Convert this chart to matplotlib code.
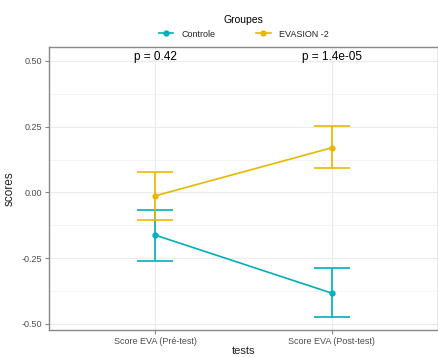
import matplotlib.pyplot as plt
from matplotlib.lines import Line2D
from matplotlib.ticker import MultipleLocator

plt.rcParams["font.family"] = ["Liberation Sans", "DejaVu Sans"]

# data
tests = ["Score EVA (Pré-test)", "Score EVA (Post-test)"]
groups = ["Controle", "EVASION -2"]
colors = ["#00AFBB", "#E7B800"]
means = {"Controle": [-0.162, -0.383], "EVASION -2": [-0.013, 0.170]}
lower = {"Controle": [-0.260, -0.475], "EVASION -2": [-0.106, 0.093]}
upper = {"Controle": [-0.065, -0.288], "EVASION -2": [0.078, 0.253]}
p_labels = ["p = 0.42", "p = 1.4e-05"]

fig = plt.figure(figsize=(4.39, 3.57), dpi=100)
ax = fig.add_axes([49 / 439, 1 - 330 / 357, 389 / 439, 283 / 357])

x = [1, 2]
handles = []
for g, c in zip(groups, colors):
    m = means[g]
    yerr = [[m[i] - lower[g][i] for i in range(2)], [upper[g][i] - m[i] for i in range(2)]]
    ax.errorbar(x, m, yerr=yerr, color=c, lw=1.2, marker="o", ms=3.5,
                capsize=13, capthick=1.2, elinewidth=1.2, zorder=3)
    handles.append(Line2D([], [], color=c, lw=1.2, marker="o", ms=3.5, label=g))

# p-values above each group
for xi, lab in zip(x, p_labels):
    ax.text(xi, 0.515, lab, ha="center", va="center", fontsize=8.5, color="black")

ax.set_xlim(0.4, 2.6)
ax.set_ylim(-0.523, 0.553)
ax.set_xticks(x)
ax.set_xticklabels(tests)
ax.yaxis.set_minor_locator(MultipleLocator(0.125))
ax.set_yticks([0.5, 0.25, 0.0, -0.25, -0.5])
ax.set_yticklabels(["0.50", "0.25", "0.00", "-0.25", "-0.50"])
ax.grid(True, which="major", color="#EBEBEB", lw=0.8)
ax.grid(True, which="minor", axis="y", color="#F2F2F2", lw=0.6)
ax.set_axisbelow(True)
ax.tick_params(axis="both", which="major", labelsize=6.5, colors="#888888", labelcolor="#4D4D4D",
               length=3, width=0.8, pad=2)
ax.tick_params(axis="y", which="minor", length=0)
for s in ax.spines.values():
    s.set_color("#888888")
    s.set_linewidth(1.0)

ax.set_xlabel("tests", fontsize=8, color="#222222", labelpad=0)
ax.set_ylabel("scores", fontsize=8.5, color="#222222", labelpad=4)

leg = fig.legend(handles=handles, loc="center", bbox_to_anchor=(0.555, 0.925), ncol=2,
                 frameon=False, title="Groupes", fontsize=6.5, title_fontsize=7.5,
                 handlelength=1.6, columnspacing=4.5, handletextpad=0.9)
for t in leg.get_texts():
    t.set_color("#222222")

plt.savefig("out.png", dpi=100)
